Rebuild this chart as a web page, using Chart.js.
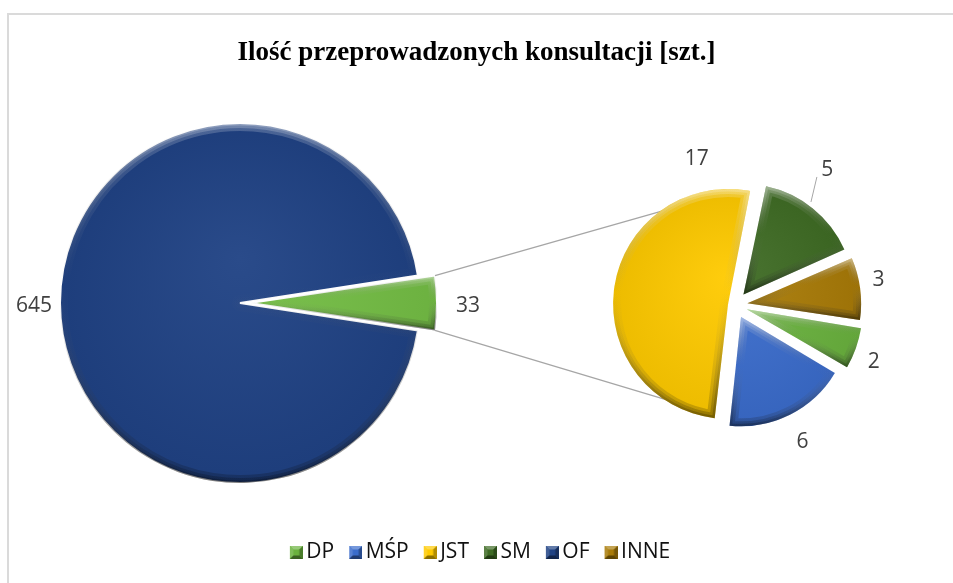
<!DOCTYPE html>
<html><head><meta charset="utf-8">
<script src="https://cdn.jsdelivr.net/npm/chart.js@4.4.1/dist/chart.umd.min.js"></script>
<style>
html,body{margin:0;padding:0;background:#fff;width:953px;height:583px;overflow:hidden;}
#wrap{position:relative;width:953px;height:583px;}
#wrap canvas{position:absolute;left:0;top:0;}
#frame{position:absolute;left:7px;top:13px;width:980px;height:620px;border-left:2px solid #DADADA;border-top:2px solid #DADADA;}
</style></head><body>
<div id="wrap">
<div id="frame"></div>
<canvas id="cBase" width="953" height="583"></canvas>
<canvas id="cMain" width="953" height="583"></canvas>
<canvas id="cSub" width="953" height="583"></canvas>
</div>
<script>
// ---------- data ----------
const chartTitle = 'Ilość przeprowadzonych konsultacji [szt.]';
const categories = ['DP', 'MŚP', 'JST', 'SM', 'OF', 'INNE'];
const consultations = [2, 6, 17, 5, 645, 3];
const mainCategory = 'OF';
const secondOrder = ['SM', 'INNE', 'DP', 'MŚP', 'JST'];
const otherLabel = 'Pozostałe';

// ---------- styles ----------
const sliceColors = {DP:'#6AB23E', 'MŚP':'#3A6CCB', JST:'#FFCA00', SM:'#3E6B24', OF:'#1F4284', INNE:'#A97B08'};
const otherColor = '#74BE45';
const labelFont = '21px "Open Sans"';
const labelColor = '#404040';

function hexToRgb(h){h=h.replace('#','');return [parseInt(h.substr(0,2),16),parseInt(h.substr(2,2),16),parseInt(h.substr(4,2),16)];}
function shade(h, amt){const [r,g,b]=hexToRgb(h);const t=amt<0?0:255;const p=Math.abs(amt);
  return 'rgb('+Math.round(r+(t-r)*p)+','+Math.round(g+(t-g)*p)+','+Math.round(b+(t-b)*p)+')';}

function valueOf(cat){ return consultations[categories.indexOf(cat)]; }

// legend marker: 13px bevelled square drawn at the right end of a 27px wide transparent image
function makeMarker(base){
  const c=document.createElement('canvas'); c.width=27; c.height=13;
  const g=c.getContext('2d'); const s=13,k=3.5; g.translate(14,0);
  const poly=(pts,col)=>{g.beginPath();g.moveTo(pts[0][0],pts[0][1]);pts.slice(1).forEach(p=>g.lineTo(p[0],p[1]));g.closePath();g.fillStyle=col;g.fill();};
  g.fillStyle=base; g.fillRect(0,0,s,s);
  poly([[0,0],[s,0],[s-k,k],[k,k]], shade(base,0.3));
  poly([[0,0],[k,k],[k,s-k],[0,s]], shade(base,0.15));
  poly([[s,0],[s,s],[s-k,s-k],[s-k,k]], shade(base,-0.3));
  poly([[0,s],[k,s-k],[s-k,s-k],[s,s]], shade(base,-0.45));
  return c;
}

function arcGeom(el){
  const o=(el.options.offset||0)/4;
  const circ=el.endAngle-el.startAngle;
  const fix=1-Math.sin(Math.min(Math.PI,circ));
  const mid=(el.startAngle+el.endAngle)/2;
  const cx=el.x+Math.cos(mid)*o, cy=el.y+Math.sin(mid)*o;
  const r=el.outerRadius+o*fix;
  const shrink=(o*fix/Math.PI)/r/2;
  return {cx,cy,r,start:el.startAngle+shrink,end:el.endAngle-shrink,mid};
}

function sliceFill(colorsArr, R){
  return (ctx)=>{
    const base=colorsArr[ctx.dataIndex];
    const ca=ctx.chart.chartArea;
    if(!ca) return base;
    const cx=(ca.left+ca.right)/2, cy=(ca.top+ca.bottom)/2;
    const g=ctx.chart.ctx.createRadialGradient(cx,cy-R*0.25,0,cx,cy,R*1.05);
    g.addColorStop(0,shade(base,0.05));
    g.addColorStop(1,shade(base,-0.07));
    return g;
  };
}

const bevel={
  id:'bevel',
  afterDatasetsDraw(chart){
    const ctx=chart.ctx;
    chart.getDatasetMeta(0).data.forEach(el=>{
      const g=arcGeom(el);
      let minY=g.cy,maxY=g.cy;
      for(let t=0;t<=40;t++){const a=g.start+(g.end-g.start)*t/40;const y=g.cy+Math.sin(a)*g.r;minY=Math.min(minY,y);maxY=Math.max(maxY,y);}
      ctx.save();
      ctx.beginPath();ctx.moveTo(g.cx,g.cy);ctx.arc(g.cx,g.cy,g.r,g.start,g.end);ctx.closePath();
      ctx.clip();
      const lg=ctx.createLinearGradient(0,minY,0,maxY);
      lg.addColorStop(0,'rgba(255,255,255,0.8)');
      lg.addColorStop(0.45,'rgba(128,128,128,0)');
      lg.addColorStop(1,'rgba(0,0,0,0.8)');
      ctx.strokeStyle=lg; ctx.lineJoin='round';
      [16,10,5].forEach(w=>{ctx.globalAlpha=0.26;ctx.lineWidth=w;ctx.stroke();});
      ctx.restore();
    });
  }
};

const sliceLabels={
  id:'sliceLabels',
  afterDatasetsDraw(chart,args,opts){
    const meta=chart.getDatasetMeta(0); const ds=chart.data.datasets[0]; const ctx=chart.ctx;
    ctx.save();
    ctx.font=opts.font; ctx.fillStyle=opts.color; ctx.textAlign='center'; ctx.textBaseline='middle';
    meta.data.forEach((el,i)=>{
      const p=(opts.place&&opts.place[i])||{};
      const mid=(el.startAngle+el.endAngle)/2;
      const ang=p.angle!=null?(p.angle-90)*Math.PI/180:mid;
      const d=el.outerRadius+(p.gap!=null?p.gap:opts.gap);
      ctx.fillText(String(ds.data[i]), el.x+Math.cos(ang)*d, el.y+Math.sin(ang)*d+(opts.dy||0));
      if(p.leader){
        const L=p.leader; const a1=(L[0]-90)*Math.PI/180, a2=(L[2]-90)*Math.PI/180;
        ctx.save();ctx.strokeStyle='#A6A6A6';ctx.lineWidth=1;ctx.beginPath();
        ctx.moveTo(el.x+Math.cos(a1)*(el.outerRadius+L[1]), el.y+Math.sin(a1)*(el.outerRadius+L[1]));
        ctx.lineTo(el.x+Math.cos(a2)*(el.outerRadius+L[3]), el.y+Math.sin(a2)*(el.outerRadius+L[3]));
        ctx.stroke();ctx.restore();
      }
    });
    ctx.restore();
  }
};

const connectors={
  id:'connectors',
  beforeDatasetsDraw(chart,args,opts){
    const src=opts.source && opts.source(); if(!src) return;
    const el=src.getDatasetMeta(0).data[0]; if(!el) return;
    const g=arcGeom(el);
    const sub=chart.getDatasetMeta(0).data[0]; if(!sub) return;
    const R=sub.outerRadius+opts.reach;
    const aTop=(-opts.angle-90)*Math.PI/180, aBot=(180+opts.angle-90)*Math.PI/180;
    const ctx=chart.ctx; ctx.save(); ctx.strokeStyle='#A6A6A6'; ctx.lineWidth=1.3; ctx.beginPath();
    ctx.moveTo(g.cx+Math.cos(g.start)*g.r, g.cy+Math.sin(g.start)*g.r);
    ctx.lineTo(sub.x+Math.cos(aTop)*R, sub.y+Math.sin(aTop)*R);
    ctx.moveTo(g.cx+Math.cos(g.end)*g.r, g.cy+Math.sin(g.end)*g.r);
    ctx.lineTo(sub.x+Math.cos(aBot)*R, sub.y+Math.sin(aBot)*R);
    ctx.stroke(); ctx.restore();
  }
};

// ---------- base chart: title + legend ----------
const baseChart=new Chart(document.getElementById('cBase'),{
  type:'pie',
  data:{labels:categories,datasets:[{data:[]}]},
  options:{
    responsive:false, animation:false, events:[],
    layout:{padding:{left:0,right:0,top:0,bottom:10}},
    plugins:{
      tooltip:{enabled:false},
      title:{display:true,text:chartTitle,color:'#000',font:{family:'Liberation Serif',size:27,weight:'bold'},padding:{top:37,bottom:0}},
      legend:{
        display:true, position:'bottom',
        labels:{
          usePointStyle:true, boxWidth:13, boxHeight:13, padding:8,
          color:'#111', font:{family:'Open Sans',size:21},
          generateLabels:()=>categories.map((c,i)=>({text:c,pointStyle:makeMarker(sliceColors[c]),fillStyle:sliceColors[c],strokeStyle:sliceColors[c],lineWidth:0,hidden:false,index:i,fontColor:'#111'}))
        }
      }
    }
  }
});

// ---------- main pie ----------
const otherTotal=secondOrder.reduce((s,c)=>s+valueOf(c),0);
const mainTotal=otherTotal+valueOf(mainCategory);
const mainRadius=180;
const mainColors=[otherColor, sliceColors[mainCategory]];
const mainChart=new Chart(document.getElementById('cMain'),{
  type:'pie',
  data:{labels:[otherLabel, mainCategory],datasets:[{
    data:[otherTotal, valueOf(mainCategory)],
    backgroundColor:sliceFill(mainColors, mainRadius),
    borderColor:'#ffffff', borderWidth:2,
    offset:[40,0],
    radius:mainRadius,
    rotation:90-(otherTotal/mainTotal*360)/2
  }]},
  options:{
    responsive:false, animation:false, events:[],
    layout:{padding:{left:0,right:473,top:23,bottom:0}},
    plugins:{
      legend:{display:false}, tooltip:{enabled:false},
      sliceLabels:{font:labelFont,color:labelColor,gap:25,dy:3,place:[{angle:90,gap:48},{angle:270,gap:26}]}
    }
  },
  plugins:[bevel, sliceLabels]
});

// ---------- secondary pie ----------
const subRadius=108;
const subColors=secondOrder.map(c=>sliceColors[c]);
const subChart=new Chart(document.getElementById('cSub'),{
  type:'pie',
  data:{labels:secondOrder,datasets:[{
    data:secondOrder.map(valueOf),
    backgroundColor:sliceFill(subColors, subRadius),
    borderWidth:0,
    offset:[54,50,50,54,28],
    radius:subRadius,
    rotation:11.6
  }]},
  options:{
    responsive:false, animation:false, events:[],
    layout:{padding:{left:535,right:18,top:105,bottom:78}},
    plugins:{
      legend:{display:false}, tooltip:{enabled:false},
      connectors:{source:()=>mainChart, reach:3, angle:22},
      sliceLabels:{font:labelFont,color:labelColor,gap:40,dy:2,place:[
        {angle:34,gap:57,leader:[36.4,20,32.6,44]},
        {angle:79.5,gap:38},{angle:111.5,gap:41},{gap:43},
        {angle:345.5,gap:45}
      ]}
    }
  },
  plugins:[connectors, bevel, sliceLabels]
});
</script>
</body></html>
